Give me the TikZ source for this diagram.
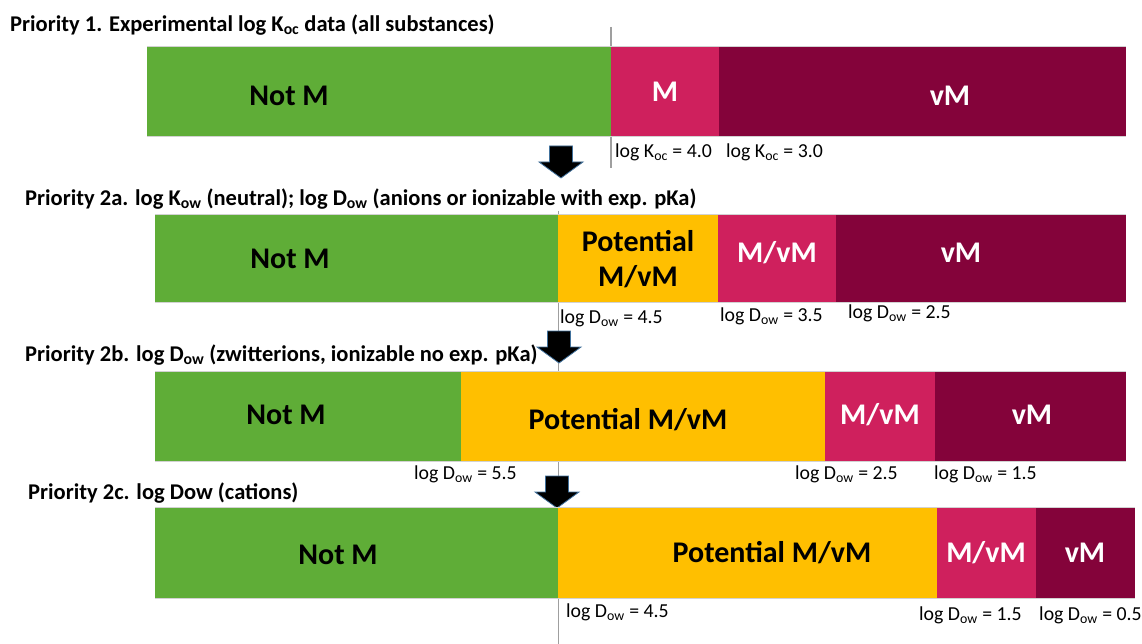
\documentclass[tikz,border=0pt]{standalone}
\usepackage{fontspec}
\setmainfont{Carlito}

\definecolor{cgreen}{HTML}{5FAD37}
\definecolor{cpink}{HTML}{CF205D}
\definecolor{cwine}{HTML}{84033A}
\definecolor{cgold}{HTML}{FFBF00}
\definecolor{arrowedge}{HTML}{41719C}

\tikzset{
  cell/.style={anchor=north west, inner sep=0pt, outer sep=0pt},
  celltext/.style={inner sep=0pt, font=\fontsize{30}{35}\selectfont\bfseries, align=center},
  dark/.style={celltext, text=black},
  light/.style={celltext, text=white},
  title/.style={anchor=west, inner sep=0pt, font=\fontsize{22.5}{25}\selectfont\bfseries},
  lbl/.style={anchor=west, inner sep=0pt, font=\fontsize{19.8}{22}\selectfont},
  guide/.style={draw=gray!75, line width=1.2pt},
  edge/.style={draw=gray!35, line width=0.8pt},
  % block arrow pointing down, origin at its tip
  downarrow/.pic={
    \filldraw[fill=black, draw=arrowedge, line width=0.8pt]
      (-11.5,-32) -- (11.5,-32) -- (11.5,-16) -- (22,-16) -- (0,0)
      -- (-22,-16) -- (-11.5,-16) -- cycle;
  }
}

\begin{document}
\begin{tikzpicture}[x=1pt, y=-1pt]
\useasboundingbox (0,0) rectangle (1142,644);

% threshold guide lines (behind the bars)
\coordinate (g1top) at (611,27);
\coordinate (g1bot) at (611,168);
\coordinate (g2top) at (558.5,211);
\coordinate (g2bot) at (558.5,644);
\draw[guide] (g1top) -- (g1bot);
\draw[guide] (g2top) -- (g2bot);

% ---------- Priority 1 ----------
\node[title] (title1) at (10,25) {Priority 1. Experimental log K\textsubscript{oc} data (all substances)};
\node[cell, fill=cgreen, minimum width=464pt, minimum height=90pt] (r1a) at (147,46) {};
\node[cell, fill=cpink,  minimum width=108pt, minimum height=90pt] (r1b) at (611,46) {};
\node[cell, fill=cwine,  minimum width=407pt, minimum height=90pt] (r1c) at (719,46) {};
\draw[edge] (r1a.north west) -- (r1c.north east);
\draw[edge] (r1a.south west) -- (r1c.south east);
\node[dark]  (t1a) at (289,96) {Not M};
\node[light] (t1b) at (665,92) {M};
\node[light] (t1c) at (950,96) {vM};
\node[lbl] (l1a) at (615,152) {log K\textsubscript{oc} = 4.0};
\node[lbl] (l1b) at (726,152) {log K\textsubscript{oc} = 3.0};
\pic (a1) at (561,178) {downarrow};

% ---------- Priority 2a ----------
\node[title] (title2) at (25,199) {Priority 2a. log K\textsubscript{ow} (neutral); log D\textsubscript{ow} (anions or ionizable with exp. pKa)};
\node[cell, fill=cgreen, minimum width=403pt, minimum height=88pt] (r2a) at (155,214) {};
\node[cell, fill=cgold,  minimum width=160pt, minimum height=88pt] (r2b) at (558,214) {};
\node[cell, fill=cpink,  minimum width=118pt, minimum height=88pt] (r2c) at (718,214) {};
\node[cell, fill=cwine,  minimum width=290pt, minimum height=88pt] (r2d) at (836,214) {};
\draw[edge] (r2a.north west) -- (r2d.north east);
\draw[edge] (r2a.south west) -- (r2d.south east);
\node[dark]  (t2a) at (290,259) {Not M};
\node[dark]  (t2b) at (638,259) {Potential\\M/vM};
\node[light] (t2c) at (777,253) {M/vM};
\node[light] (t2d) at (961,253) {vM};
\node[lbl] (l2a) at (560,318) {log D\textsubscript{ow} = 4.5};
\node[lbl] (l2b) at (720,316) {log D\textsubscript{ow} = 3.5};
\node[lbl] (l2c) at (848,313) {log D\textsubscript{ow} = 2.5};
\pic (a2) at (559,363) {downarrow};

% ---------- Priority 2b ----------
\node[title] (title3) at (25,355) {Priority 2b. log D\textsubscript{ow} (zwitterions, ionizable no exp. pKa)};
\node[cell, fill=cgreen, minimum width=306pt, minimum height=90pt] (r3a) at (155,371) {};
\node[cell, fill=cgold,  minimum width=364pt, minimum height=90pt] (r3b) at (461,371) {};
\node[cell, fill=cpink,  minimum width=110pt, minimum height=90pt] (r3c) at (825,371) {};
\node[cell, fill=cwine,  minimum width=191pt, minimum height=90pt] (r3d) at (935,371) {};
\draw[edge] (r3a.north west) -- (r3d.north east);
\draw[edge] (r3a.south west) -- (r3d.south east);
\node[dark]  (t3a) at (286,415) {Not M};
\node[dark]  (t3b) at (628,420) {Potential M/vM};
\node[light] (t3c) at (880,415) {M/vM};
\node[light] (t3d) at (1032,415) {vM};
\node[lbl] (l3a) at (414,474) {log D\textsubscript{ow} = 5.5};
\node[lbl] (l3b) at (795,474) {log D\textsubscript{ow} = 2.5};
\node[lbl] (l3c) at (934,474) {log D\textsubscript{ow} = 1.5};
\pic (a3) at (557,508) {downarrow};

% ---------- Priority 2c ----------
\node[title] (title4) at (28,493) {Priority 2c. log Dow (cations)};
\node[cell, fill=cgreen, minimum width=403pt, minimum height=91pt] (r4a) at (155,507) {};
\node[cell, fill=cgold,  minimum width=379pt, minimum height=91pt] (r4b) at (558,507) {};
\node[cell, fill=cpink,  minimum width=99pt,  minimum height=91pt] (r4c) at (937,507) {};
\node[cell, fill=cwine,  minimum width=99pt,  minimum height=91pt] (r4d) at (1036,507) {};
\draw[edge] (r4a.north west) -- (r4d.north east);
\draw[edge] (r4a.south west) -- (r4d.south east);
\node[dark]  (t4a) at (338,555) {Not M};
\node[dark]  (t4b) at (772,553) {Potential M/vM};
\node[light] (t4c) at (986,553) {M/vM};
\node[light] (t4d) at (1085,553) {vM};
\node[lbl] (l4a) at (566,612) {log D\textsubscript{ow} = 4.5};
\node[lbl] (l4b) at (919,615) {log D\textsubscript{ow} = 1.5};
\node[lbl] (l4c) at (1039,615) {log D\textsubscript{ow} = 0.5};
\end{tikzpicture}
\end{document}
